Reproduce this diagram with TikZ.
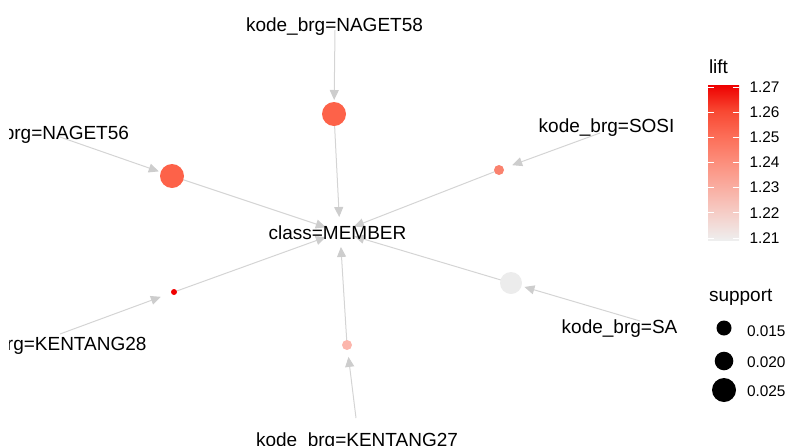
\documentclass[tikz,border=0pt]{standalone}
\usepackage{fontspec}
\setmainfont{Liberation Sans}
\usetikzlibrary{arrows.meta}
\definecolor{edgegray}{RGB}{212,212,212}
\definecolor{arrowgray}{RGB}{205,205,205}
\definecolor{cNA}{RGB}{253,98,73}
\definecolor{cSO}{RGB}{250,130,110}
\definecolor{cK27}{RGB}{252,182,172}
\definecolor{cK28}{RGB}{240,0,0}
\definecolor{cSA}{RGB}{236,236,236}
\pgfdeclareverticalshading{liftbar}{100bp}{%
  color(0bp)=(rgb,255:red,238;green,238;blue,238);
  color(25bp)=(rgb,255:red,238;green,238;blue,238);
  color(33.33bp)=(rgb,255:red,245;green,207;blue,201);
  color(41.67bp)=(rgb,255:red,249;green,175;blue,163);
  color(50bp)=(rgb,255:red,252;green,143;blue,125);
  color(58.33bp)=(rgb,255:red,252;green,110;blue,88);
  color(66.67bp)=(rgb,255:red,248;green,72;blue,50);
  color(75bp)=(rgb,255:red,238;green,0;blue,0);
  color(100bp)=(rgb,255:red,238;green,0;blue,0)}
\tikzset{
  edge/.style={draw=edgegray, line width=1pt,
    -{Triangle[length=10pt,width=9pt,color=arrowgray]}, shorten >=14pt},
  rulenode/.style={circle, inner sep=0pt, outer sep=0pt, draw=none},
  lbl/.style={inner sep=0pt, outer sep=0pt, font=\fontsize{19}{22}\selectfont, text=black},
  legtitle/.style={inner sep=0pt, outer sep=0pt, font=\fontsize{19}{22}\selectfont, anchor=base west},
  legtext/.style={inner sep=0pt, outer sep=0pt, font=\fontsize{15.4}{18}\selectfont, anchor=west},
  tickmark/.style={draw=white, line width=0.8pt}
}
\begin{document}
\begin{tikzpicture}[x=1pt,y=-1pt]
\useasboundingbox (0,0) rectangle (793,445);
\begin{scope}
\clip (9.5,0) rectangle (680,445);
% item positions and centre
\coordinate (i58) at (335,30);
\coordinate (i56) at (60,137);
\coordinate (iSO) at (600,133);
\coordinate (iSA) at (640,321);
\coordinate (iK28) at (60,334);
\coordinate (iK27) at (356,418);
\coordinate (cm) at (340,232);
% rule nodes (positions)
\node[rulenode, minimum size=24pt] (r58) at (334,114) {};
\node[rulenode, minimum size=24pt] (r56) at (172,176) {};
\node[rulenode, minimum size=10pt] (rSO) at (499,170) {};
\node[rulenode, minimum size=22pt] (rSA) at (511,283) {};
\node[rulenode, minimum size=6pt] (rK28) at (174,292) {};
\node[rulenode, minimum size=10pt] (rK27) at (347,345) {};
% edges
\draw[edge] (i58) -- (r58.center);
\draw[edge] (i56) -- (r56.center);
\draw[edge] (iSO) -- (rSO.center);
\draw[edge] (iSA) -- (rSA.center);
\draw[edge] (iK28) -- (rK28.center);
\draw[edge, shorten >=12pt] (iK27) -- (rK27.center);
\draw[edge, shorten >=15pt] (r58.center) -- (cm);
\draw[edge, shorten >=15pt] (r56.center) -- (cm);
\draw[edge, shorten >=15pt] (rSO.center) -- (cm);
\draw[edge, shorten >=15pt] (rSA.center) -- (cm);
\draw[edge, shorten >=15pt] (rK28.center) -- (cm);
\draw[edge, shorten >=15pt] (rK27.center) -- (cm);
% rule node discs on top of edges
\fill[cNA] (r58.center) circle (12pt);
\fill[cNA] (r56.center) circle (12pt);
\fill[cSO] (rSO.center) circle (5pt);
\fill[cSA] (rSA.center) circle (11pt);
\fill[cK28] (rK28.center) circle (3pt);
\fill[cK27] (rK27.center) circle (5pt);
% labels
\node[lbl, anchor=base] (t58) at (334.5,31) {kode\_brg=NAGET58};
\node[lbl, anchor=base east] (t56) at (129,139) {kode\_brg=NAGET56};
\node[lbl, anchor=base west] (tSO) at (538.7,132) {kode\_brg=SOSI};
\node[lbl, anchor=base west] (tSA) at (561.7,333) {kode\_brg=SA};
\node[lbl, anchor=base east] (tK28) at (146.5,350) {kode\_brg=KENTANG28};
\node[lbl, anchor=base] (tK27) at (357,446) {kode\_brg=KENTANG27};
\node[lbl, anchor=base] (tcm) at (337.5,239) {class=MEMBER};
\end{scope}
% legend: lift
\node[legtitle] (lifttitle) at (709,73) {lift};
\node[inner sep=0pt, outer sep=0pt, minimum width=31pt, minimum height=155pt,
  shading=liftbar, anchor=north west] (bar) at (708,85) {};
\foreach \v [count=\k from 0] in {1.27,1.26,1.25,1.24,1.23,1.22,1.21}{
  \pgfmathsetmacro{\ty}{87+\k*25.17}
  \draw[tickmark] (708,\ty) -- (714,\ty);
  \draw[tickmark] (733,\ty) -- (739,\ty);
  \node[legtext] (lv\k) at (749.5,\ty) {\v};
}
% legend: support
\node[legtitle] (supptitle) at (709,301) {support};
\fill[black] (724,328) circle (7.5pt);
\fill[black] (724,361) circle (9.3pt);
\fill[black] (724,390) circle (12pt);
\node[legtext] (s1) at (747,331) {0.015};
\node[legtext] (s2) at (747,362.5) {0.020};
\node[legtext] (s3) at (747,391) {0.025};
\end{tikzpicture}
\end{document}
